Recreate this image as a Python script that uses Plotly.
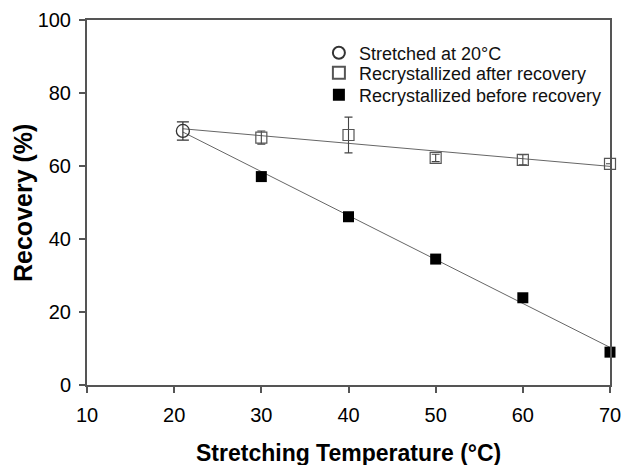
import plotly.graph_objects as go

# Data
x_circle = [21]
y_circle = [69.6]
err_circle = [2.5]

x_after = [30, 40, 50, 60, 70]
y_after = [67.8, 68.5, 62.2, 61.7, 60.6]
err_after = [1.8, 4.9, 1.0, 1.4, 0.0]

x_before = [30, 40, 50, 60, 70]
y_before = [57.1, 46.1, 34.5, 23.9, 9.0]

# trend line endpoints
fit_x = [21, 70]
fit_after_y = [70.2, 59.9]
fit_before_y = [69.3, 10.3]

x_ticks = [10, 20, 30, 40, 50, 60, 70]
y_ticks = [0, 20, 40, 60, 80, 100]

FONT = "Liberation Sans, Arial, sans-serif"
AXC = "#555555"
LINEC = "#666666"

fig = go.Figure()

fig.add_trace(go.Scatter(x=fit_x, y=fit_after_y, mode="lines",
                         line=dict(color=LINEC, width=1), showlegend=False,
                         hoverinfo="skip", cliponaxis=False))
fig.add_trace(go.Scatter(x=fit_x, y=fit_before_y, mode="lines",
                         line=dict(color=LINEC, width=1), showlegend=False,
                         hoverinfo="skip", cliponaxis=False))

fig.add_trace(go.Scatter(
    x=x_circle, y=y_circle, mode="markers", name="Stretched at 20°C",
    marker=dict(symbol="circle-open", size=13, color="#333333", line=dict(width=1.3)),
    error_y=dict(type="data", array=err_circle, color="#333333", thickness=1.2, width=6),
    cliponaxis=False, legend="legend"))

fig.add_trace(go.Scatter(
    x=x_after, y=y_after, mode="markers", name="Recrystallized after recovery",
    marker=dict(symbol="square-open", size=11, color="#555555", line=dict(width=1.2)),
    error_y=dict(type="data", array=err_after, color="#444444", thickness=1.1, width=4),
    cliponaxis=False, legend="legend2"))

fig.add_trace(go.Scatter(
    x=x_before, y=y_before, mode="markers", name="Recrystallized before recovery",
    marker=dict(symbol="square", size=11, color="black"),
    cliponaxis=False, legend="legend3"))

def leg(ypos):
    return dict(x=0.4434, y=ypos, xanchor="left", yanchor="middle",
                bgcolor="rgba(0,0,0,0)", font=dict(size=18, color="#111111", family=FONT),
                itemsizing="constant")

plot_w = 622 - 87 - 12
plot_h = 465 - 20 - 80

fig.update_layout(
    width=622, height=465,
    margin=dict(l=87, r=12, t=20, b=80, autoexpand=False),
    paper_bgcolor="white", plot_bgcolor="white",
    font=dict(family=FONT, color="black", size=18),
    legend=leg(0.9096), legend2=leg(0.8548), legend3=leg(0.7945),
    showlegend=True,
    annotations=[
        dict(text="<b>Stretching Temperature (°C)</b>", x=0.5, y=(385 - 453) / plot_h,
             xref="paper", yref="paper", showarrow=False,
             font=dict(size=23, family=FONT, color="black"), xanchor="center", yanchor="middle"),
        dict(text="<b>Recovery (%)</b>", x=(23 - 87) / plot_w, y=(385 - 203) / plot_h,
             xref="paper", yref="paper", showarrow=False, textangle=-90,
             font=dict(size=25, family=FONT, color="black"), xanchor="center", yanchor="middle"),
    ],
)

fig.update_xaxes(
    range=[10, 70], tickvals=x_ticks, ticktext=[str(v) for v in x_ticks],
    showgrid=False, zeroline=False, showline=True, linecolor=AXC, linewidth=2,
    mirror=True, ticks="outside", ticklen=6, tickwidth=1.5, tickcolor=AXC,
    ticklabelstandoff=5, automargin=False,
    tickfont=dict(size=20, family=FONT, color="black"),
)
fig.update_yaxes(
    range=[0, 100], tickvals=y_ticks, ticktext=[str(v) for v in y_ticks],
    showgrid=False, zeroline=False, showline=True, linecolor=AXC, linewidth=2,
    mirror=True, ticks="outside", ticklen=6, tickwidth=1.5, tickcolor=AXC,
    ticklabelstandoff=4, automargin=False,
    tickfont=dict(size=20, family=FONT, color="black"),
)

fig.write_html("out.html")
